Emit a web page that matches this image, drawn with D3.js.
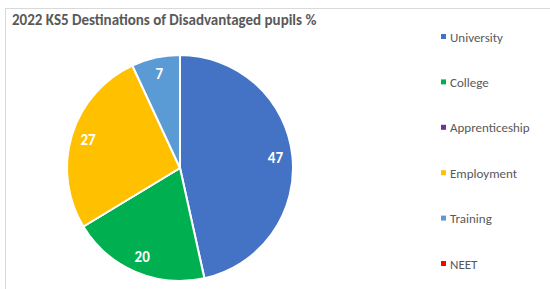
<!DOCTYPE html>
<html>
<head>
<meta charset="utf-8">
<script src="https://cdn.jsdelivr.net/npm/d3@7"></script>
<style>
  body { margin: 0; background: #fff; }
  text { font-family: Carlito, "Open Sans", "Liberation Sans", sans-serif; }
</style>
</head>
<body>
<div id="chart"></div>
<script>
// data
var categories = ["University", "College", "Apprenticeship", "Employment", "Training", "NEET"];
var values = [47, 20, 0, 27, 7, 0];
var colours = ["#4472C4", "#00B050", "#7030A0", "#FFC000", "#5B9BD5", "#FF0000"];
var title = "2022 KS5 Destinations of Disadvantaged pupils %";

var width = 550, height = 289;
var cx = 180, cy = 168, radius = 113;

var svg = d3.select("#chart").append("svg")
    .attr("width", width)
    .attr("height", height);

// chart area border
svg.append("rect")
    .attr("x", 5.5).attr("y", 8.5)
    .attr("width", width).attr("height", height)
    .attr("fill", "none")
    .attr("stroke", "#d9d9d9");

svg.append("text")
    .attr("x", 12).attr("y", 25)
    .attr("font-size", 15)
    .attr("font-weight", "bold")
    .attr("fill", "#595959")
    .text(title);

var data = categories.map(function(c, i){ return {name: c, value: values[i], colour: colours[i]}; });

var pie = d3.pie().sort(null).value(function(d){ return d.value; });
var arc = d3.arc().innerRadius(0).outerRadius(radius);
var labelArc = d3.arc().innerRadius(radius * 0.85).outerRadius(radius * 0.85);

var g = svg.append("g").attr("transform", "translate(" + cx + "," + cy + ")");

var arcs = pie(data);

g.selectAll("path")
    .data(arcs)
    .enter().append("path")
    .attr("d", arc)
    .attr("fill", function(d){ return d.data.colour; })
    .attr("stroke", "#fff")
    .attr("stroke-width", 2)
    .attr("stroke-linejoin", "round");

g.selectAll("text.lbl")
    .data(arcs.filter(function(d){ return d.data.value > 0; }))
    .enter().append("text")
    .attr("class", "lbl")
    .attr("transform", function(d){ return "translate(" + labelArc.centroid(d) + ")"; })
    .attr("text-anchor", "middle")
    .attr("dy", "0.35em")
    .attr("font-size", 15)
    .attr("font-weight", "bold")
    .attr("fill", "#fff")
    .text(function(d){ return d.data.value; });

// legend
var legendY = d3.scalePoint().domain(categories).range([37, 264]);

var legend = svg.selectAll("g.legend")
    .data(data)
    .enter().append("g")
    .attr("class", "legend")
    .attr("transform", function(d){ return "translate(441," + legendY(d.name) + ")"; });

legend.append("rect")
    .attr("x", 0).attr("y", -3)
    .attr("width", 5).attr("height", 5)
    .attr("fill", function(d){ return d.colour; });

legend.append("text")
    .attr("x", 9)
    .attr("dy", "0.35em")
    .attr("font-size", 13)
    .attr("fill", "#595959")
    .text(function(d){ return d.name; });
</script>
</body>
</html>
